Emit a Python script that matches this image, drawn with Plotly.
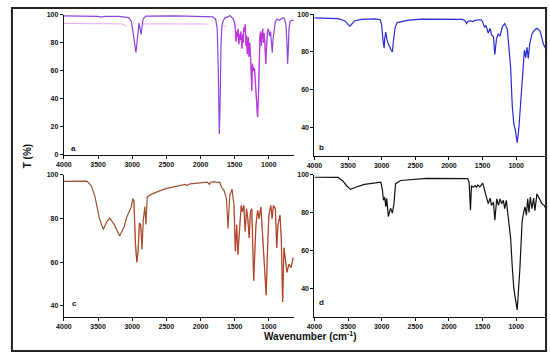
import plotly.graph_objects as go

# ---------------- data ----------------
wn_a = [4000, 3800, 3600, 3500, 3450, 3400, 3200, 3100, 3050, 3010, 2985, 2960, 2945, 2930, 2915, 2900,
        2885, 2870, 2855, 2840, 2800, 2600, 2400, 2200, 2000, 1900, 1820, 1780, 1755, 1740, 1725, 1712,
        1700, 1685, 1665, 1640, 1600, 1570, 1545, 1520, 1500, 1490, 1480, 1470, 1460, 1450, 1440, 1430,
        1420, 1410, 1395, 1385, 1375, 1365, 1355, 1345, 1335, 1325, 1315, 1300, 1290, 1280, 1265, 1250,
        1240, 1225, 1210, 1195, 1180, 1165, 1150, 1140, 1130, 1120, 1110, 1100, 1090, 1080, 1070, 1060,
        1045, 1035, 1020, 1005, 990, 975, 960, 950, 940, 925, 905, 880, 850, 820, 790, 770, 750, 735,
        725, 715, 705, 690, 670, 650, 635]
t_a = [99.2, 99.2, 99.0, 98.8, 98.3, 98.8, 98.8, 98.6, 98.0, 95, 88, 78, 73, 80, 92, 94,
       90, 86, 92, 97, 99, 99.2, 99.2, 99.0, 99.0, 99.0, 98.5, 97, 90, 60, 15, 40,
       80, 93, 96, 98, 98.5, 99.5, 98.5, 97, 94, 90, 81, 88, 84, 90, 79, 86,
       82, 88, 76, 86, 80, 91, 88, 93, 78, 85, 72, 84, 70, 80, 68, 46,
       65, 60, 62, 50, 35, 27, 45, 70, 85, 88, 78, 86, 90, 80, 87, 82,
       65, 75, 88, 90, 85, 88, 80, 73, 82, 90, 95, 97, 96, 97, 98, 97, 93, 80,
       65, 75, 90, 95, 96, 96, 96]
# faint second (ghost) trace in panel a
wn_a_ghost = [4000, 3600, 3500, 3450, 3150, 3100, 3080, None, 2860, 2500, 2000, 1900, 1880, None, 1680, 1650, 1620]
t_a_ghost = [93.8, 93.8, 93.5, 93.8, 93.5, 92.5, 91, None, 93.5, 93.5, 93.6, 93.4, 92.5, None, 92, 92.5, 91]

wn_b = [4000, 3800, 3650, 3550, 3500, 3477, 3450, 3400, 3300, 3100, 3020, 3000, 2980, 2964, 2955, 2940,
        2925, 2900, 2860, 2842, 2825, 2800, 2769, 2600, 2400, 2200, 2150, 2100, 2000, 1900, 1800, 1760,
        1740, 1720, 1690, 1650, 1600, 1520, 1500, 1470, 1450, 1416, 1387, 1367, 1338, 1318, 1293, 1270,
        1240, 1205, 1171, 1132, 1083, 1058, 1035, 1010, 985, 960, 937, 897, 878, 858, 839, 820,
        800, 765, 730, 692, 644, 595, 556]
t_b = [98.0, 97.8, 97.6, 96.5, 94.5, 93.6, 94.5, 96.5, 97.2, 97.5, 97.0, 94, 86, 82, 87, 90.5,
       87, 84, 81, 80, 86, 93, 95.5, 96.8, 97.3, 97.2, 97.5, 97.2, 97.4, 97.3, 97.2, 96.5,
       95, 96, 96.5, 96, 96.8, 97, 96, 93, 94, 90, 92.5, 89, 88, 78.6, 87, 89.5,
       88.5, 93.4, 95, 92, 71.7, 51, 42, 38, 32, 40, 51, 75.5, 81, 77, 82.5, 76.5,
       84, 89.5, 91.5, 92.5, 91, 84, 81.5]

wn_c = [4000, 3800, 3664, 3600, 3544, 3480, 3423, 3380, 3328, 3260, 3184, 3120, 3080, 3039, 3015, 2990,
        2975, 2953, 2933, 2915, 2895, 2875, 2856, 2837, 2815, 2799, 2780, 2700, 2510, 2222, 2200, 2150,
        2000, 1900, 1870, 1850, 1800, 1760, 1717, 1692, 1655, 1620, 1597, 1572, 1539, 1510, 1490, 1471,
        1453, 1424, 1404, 1385, 1366, 1346, 1327, 1308, 1288, 1269, 1250, 1222, 1189, 1164, 1144, 1116,
        1092, 1068, 1039, 1020, 1000, 971, 952, 933, 904, 885, 866, 837, 818, 798, 779, 755,
        735, 706, 674, 645, 635]
t_c = [96.9, 97.0, 97.0, 95, 89.8, 80, 74.9, 78, 80.1, 77, 71.9, 76, 80.5, 83.5, 85, 89,
       88, 68.9, 59.9, 64.4, 77.9, 77, 65.9, 79.4, 85.4, 77.2, 89.8, 91.3, 93.6, 95.5, 95, 95.8,
       96.2, 96.6, 95.5, 96.5, 96.8, 96.4, 96.4, 94.2, 92.7, 88.9, 75.4, 90.4, 93.4, 85.9, 65, 77,
       63.5, 78.5, 85.9, 83, 85.9, 74, 84.4, 79.9, 71, 83, 84.4, 51.5, 77, 83.7, 79.9, 85.2,
       74, 60.5, 44.8, 65, 81.5, 85.9, 79.9, 85.9, 84.4, 66.5, 77, 81.5, 71, 41.8, 66.5, 60.5,
       55.3, 59, 57.5, 62, 61.3]

wn_d = [4000, 3648, 3575, 3520, 3462, 3400, 3257, 3100, 3013, 2990, 2974, 2955, 2940, 2926, 2901, 2880,
        2867, 2842, 2817, 2794, 2720, 2329, 2000, 1800, 1720, 1700, 1680, 1665, 1640, 1610, 1590, 1570,
        1540, 1498, 1474, 1450, 1435, 1416, 1387, 1367, 1338, 1318, 1289, 1264, 1240, 1216, 1191, 1171,
        1147, 1123, 1083, 1058, 1035, 1010, 985, 947, 912, 888, 868, 849, 829, 810, 790, 766,
        741, 722, 692, 653, 619, 585, 556]
t_d = [98.6, 98.5, 96.5, 94, 92.2, 93.2, 94.8, 95.5, 96, 92, 86.5, 88, 83.1, 87.4, 77.9, 81,
       82.2, 79.7, 84.8, 95.2, 96.9, 98, 98, 98, 97.9, 95.9, 81.2, 94.2, 93.3, 94.2, 93.3, 94.5,
       93.5, 95.5, 92.4, 88, 87.2, 84.7, 87.6, 83.8, 85.5, 76, 87.2, 83.8, 87.2, 84.7, 86.4, 82,
       86.4, 79.5, 66.5, 51, 39.8, 34, 28.6, 49.3, 75.2, 80.3, 83, 78.6, 87.2, 80, 88.1, 82,
       87.6, 81, 89.8, 87.2, 84.7, 83.8, 82]

x_ticks = [4000, 3500, 3000, 2500, 2000, 1500, 1000]
panel_labels = ["a", "b", "c", "d"]

# ---------------- layout helpers ----------------
W, H = 550, 358
def px(x):
    return x / W
def py(y):
    return 1 - y / H

def sub(lo, hi, wn, t):
    xs, ys = [], []
    for w, v in zip(wn, t):
        if lo >= w >= hi:
            xs.append(w); ys.append(v)
    return xs, ys

fig = go.Figure()

# panel a
fig.add_trace(go.Scatter(x=wn_a_ghost, y=t_a_ghost, xaxis="x", yaxis="y", mode="lines",
                         line=dict(color="#f3a6ef", width=1), connectgaps=False, hoverinfo="skip"))
fig.add_trace(go.Scatter(x=wn_a, y=t_a, xaxis="x", yaxis="y", mode="lines",
                         line=dict(color="#8a44dc", width=1.2)))
xs, ys = sub(1500, 1000, wn_a, t_a)
fig.add_trace(go.Scatter(x=xs, y=ys, xaxis="x", yaxis="y", mode="lines",
                         line=dict(color="#e629e0", width=0.9), opacity=0.7))
# panel b
fig.add_trace(go.Scatter(x=wn_b, y=t_b, xaxis="x2", yaxis="y2", mode="lines",
                         line=dict(color="#2b2bd6", width=1.2)))
# panel c
fig.add_trace(go.Scatter(x=wn_c, y=t_c, xaxis="x3", yaxis="y3", mode="lines",
                         line=dict(color="#9c5230", width=1.2)))
for lo, hi in [(2995, 2840), (1520, 640)]:
    xs, ys = sub(lo, hi, wn_c, t_c)
    fig.add_trace(go.Scatter(x=xs, y=ys, xaxis="x3", yaxis="y3", mode="lines",
                             line=dict(color="#e0261c", width=0.7), opacity=0.55))
# panel d
fig.add_trace(go.Scatter(x=wn_d, y=t_d, xaxis="x4", yaxis="y4", mode="lines",
                         line=dict(color="#111111", width=1.2)))

tickfont = dict(family="Liberation Sans, Arial", size=7, color="#111", weight="bold")
def xax(domain, rng):
    return dict(domain=domain, range=rng, tickvals=x_ticks, showline=True, linecolor="#111",
                linewidth=1.2, ticks="outside", ticklen=3, tickwidth=1, tickcolor="#111",
                showgrid=False, zeroline=False, tickfont=tickfont)
def yax(domain, rng, dtick, anchor):
    return dict(domain=domain, range=rng, dtick=dtick, tick0=0, showline=True, linecolor="#111",
                linewidth=1.2, ticks="outside", ticklen=3, tickwidth=1, tickcolor="#111",
                showgrid=False, zeroline=False, tickfont=tickfont, anchor=anchor)

dom_left = [px(56.7), px(290)]
dom_right = [px(311), px(546)]
dom_top_a = [py(154), py(11)]
dom_top_b = [py(155), py(10.3)]
dom_bot = [py(319), py(174)]

fig.update_layout(
    width=W, height=H, margin=dict(l=0, r=0, t=0, b=0),
    paper_bgcolor="white", plot_bgcolor="white", showlegend=False,
    xaxis=dict(xax(dom_left, [4000, 635]), anchor="y"),
    yaxis=yax(dom_top_a, [0, 100], 20, "x"),
    xaxis2=dict(xax(dom_right, [4000, 556]), anchor="y2"),
    yaxis2=yax(dom_top_b, [25, 100], 20, "x2"),
    xaxis3=dict(xax(dom_left, [4000, 635]), anchor="y3"),
    yaxis3=yax(dom_bot, [35, 100], 20, "x3"),
    xaxis4=dict(xax(dom_right, [4000, 556]), anchor="y4"),
    yaxis4=yax(dom_bot, [25, 100], 20, "x4"),
)

lab_pos = [(62, 147), (318, 146), (63, 312), (318, 311)]
for lab, (lx, ly) in zip(panel_labels, lab_pos):
    fig.add_annotation(x=px(lx), y=py(ly), xref="paper", yref="paper", text=lab, showarrow=False,
                       font=dict(family="Liberation Sans, Arial", size=8, color="#111", weight="bold"))

fig.add_annotation(x=px(307), y=py(347), xref="paper", yref="paper",
                   text="Wavenumber (cm<sup>-1</sup>)", showarrow=False,
                   font=dict(family="Liberation Sans, Arial", size=10, color="#111", weight="bold"))
fig.add_annotation(x=px(13), y=py(155), xref="paper", yref="paper", text="T (%)", textangle=-90,
                   showarrow=False,
                   font=dict(family="Liberation Sans, Arial", size=10, color="#111", weight="bold"))

fig.add_shape(type="rect", xref="paper", yref="paper", x0=px(4), x1=px(546), y0=py(354), y1=py(4),
              line=dict(color="#222", width=2), fillcolor="rgba(0,0,0,0)")

fig.write_html("out.html", config={"displayModeBar": False},
               post_script="document.body.style.margin='0';document.body.style.overflow='hidden';")
